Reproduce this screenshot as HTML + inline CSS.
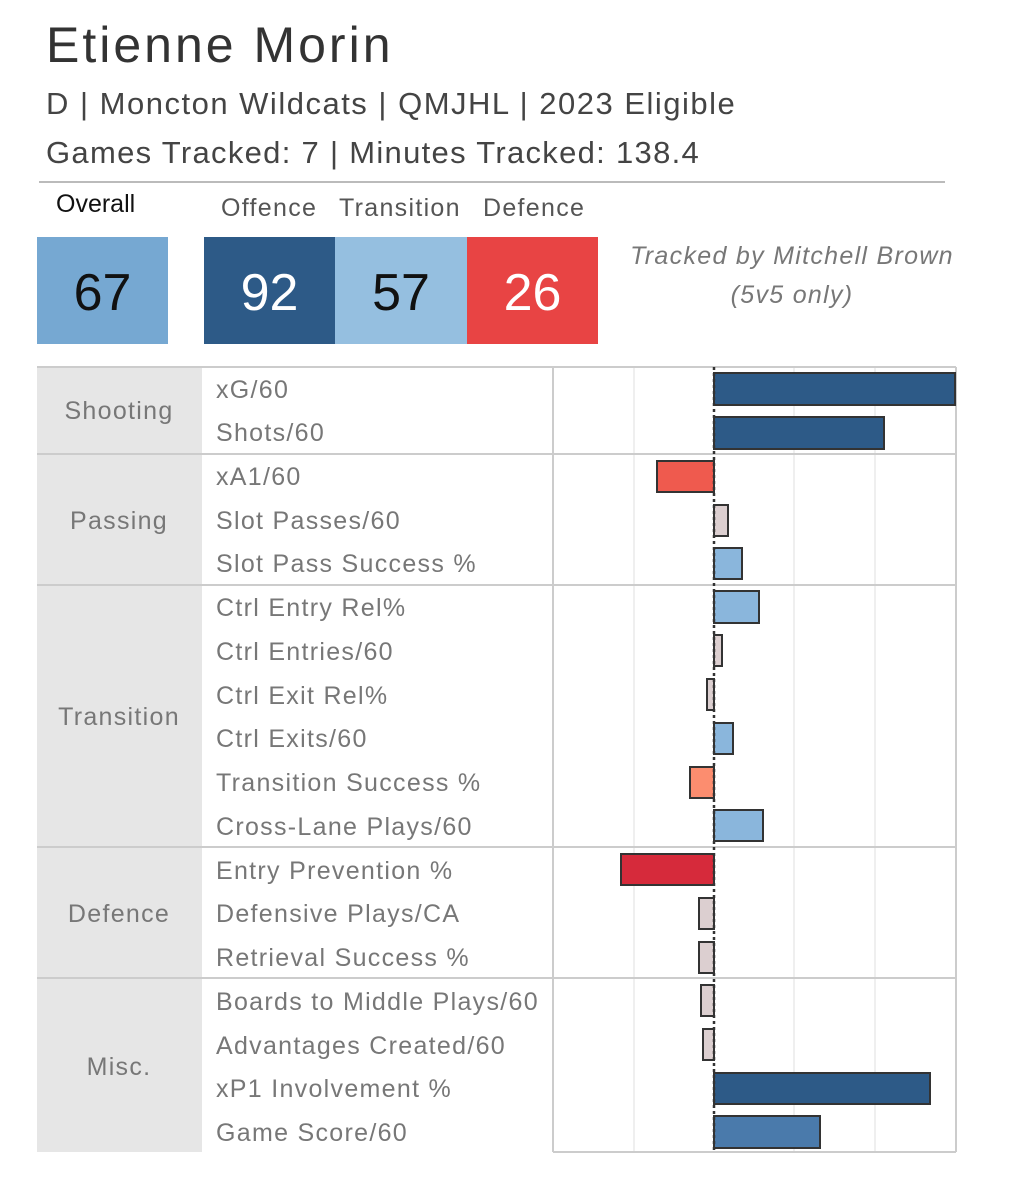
<!DOCTYPE html>
<html><head><meta charset="utf-8"><style>
body{margin:0;width:1026px;height:1195px;background:#fff;font-family:"Liberation Sans","DejaVu Sans",sans-serif;position:relative;overflow:hidden}
.a{position:absolute;white-space:nowrap}
</style></head><body>
<div class="a" style="left:46px;top:16px;font-size:50px;letter-spacing:3px;color:#333">Etienne Morin</div>
<div class="a" style="left:46px;top:86px;font-size:31px;letter-spacing:1.5px;color:#444">D | Moncton Wildcats | QMJHL | 2023 Eligible</div>
<div class="a" style="left:46px;top:135px;font-size:31px;letter-spacing:1.3px;color:#444">Games Tracked: 7 | Minutes Tracked: 138.4</div>
<div class="a" style="left:39px;top:181px;width:906px;height:2px;background:#bbb"></div>
<div class="a" style="left:56px;top:190px;font-size:25px;color:#111">Overall</div>
<div class="a" style="left:221px;top:194px;font-size:25px;letter-spacing:1.3px;color:#555">Offence</div>
<div class="a" style="left:339px;top:194px;font-size:25px;letter-spacing:1.3px;color:#555">Transition</div>
<div class="a" style="left:483px;top:194px;font-size:25px;letter-spacing:1.3px;color:#555">Defence</div>
<div class="a" style="left:37px;top:237px;width:131px;height:107px;background:#76a8d2;font-size:52px;line-height:112px;text-align:center;color:#111">67</div>
<div class="a" style="left:204px;top:237px;width:131px;height:107px;background:#2d5a87;font-size:52px;line-height:112px;text-align:center;color:#fff">92</div>
<div class="a" style="left:335px;top:237px;width:132px;height:107px;background:#95bfe0;font-size:52px;line-height:112px;text-align:center;color:#111">57</div>
<div class="a" style="left:467px;top:237px;width:131px;height:107px;background:#e84444;font-size:52px;line-height:112px;text-align:center;color:#fff">26</div>
<div class="a" style="left:622px;top:237px;width:340px;text-align:center;font-size:25px;letter-spacing:1.3px;font-style:italic;color:#777;line-height:39px;white-space:normal">Tracked by Mitchell Brown<br>(5v5 only)</div>
<svg class="a" style="left:0;top:0" width="1026" height="1195">
<rect x="37" y="367" width="165" height="785" fill="#e6e6e6"/>
<g stroke="#eaeaea" stroke-width="1.5"><line x1="634" y1="367" x2="634" y2="1152"/><line x1="794" y1="367" x2="794" y2="1152"/><line x1="875" y1="367" x2="875" y2="1152"/></g>
<g stroke="#ccc" stroke-width="2" fill="none">
<line x1="37" y1="367" x2="956" y2="367"/>
<line x1="37" y1="454" x2="956" y2="454"/><line x1="37" y1="585" x2="956" y2="585"/><line x1="37" y1="847" x2="956" y2="847"/><line x1="37" y1="978" x2="956" y2="978"/>
<line x1="553" y1="367" x2="553" y2="1152"/><line x1="956" y1="367" x2="956" y2="1152"/><line x1="553" y1="1152" x2="956" y2="1152"/>
</g>
<g stroke="#333" stroke-width="2">
<rect x="714" y="373" width="241" height="32" fill="#2d5a87"/>
<rect x="714" y="417" width="170" height="32" fill="#2d5a87"/>
<rect x="657" y="461" width="57" height="31" fill="#ef5a4e"/>
<rect x="714" y="505" width="14" height="31" fill="#dccfd0"/>
<rect x="714" y="548" width="28" height="31" fill="#8ab6dc"/>
<rect x="714" y="591" width="45" height="32" fill="#8ab6dc"/>
<rect x="714" y="635" width="8" height="31" fill="#dccfd0"/>
<rect x="707" y="679" width="7" height="31" fill="#dccfd0"/>
<rect x="714" y="723" width="19" height="31" fill="#8ab6dc"/>
<rect x="690" y="767" width="24" height="31" fill="#fc8d6f"/>
<rect x="714" y="810" width="49" height="31" fill="#8ab6dc"/>
<rect x="621" y="854" width="93" height="31" fill="#d62a3b"/>
<rect x="699" y="898" width="15" height="31" fill="#dccfd0"/>
<rect x="699" y="942" width="15" height="31" fill="#dccfd0"/>
<rect x="701" y="985" width="13" height="31" fill="#dccfd0"/>
<rect x="703" y="1029" width="11" height="31" fill="#dccfd0"/>
<rect x="714" y="1073" width="216" height="31" fill="#2d5a87"/>
<rect x="714" y="1116" width="106" height="32" fill="#4a7aab"/>
</g>
<line x1="714" y1="367" x2="714" y2="1152" stroke="#333" stroke-width="2.5" stroke-dasharray="3,3"/>
<g font-family="Liberation Sans, DejaVu Sans, sans-serif" font-size="25" fill="#777" text-anchor="middle" letter-spacing="1.3">
<text x="119" y="419">Shooting</text><text x="119" y="529">Passing</text><text x="119" y="725">Transition</text><text x="119" y="922">Defence</text><text x="119" y="1075">Misc.</text>
</g>
<g font-family="Liberation Sans, DejaVu Sans, sans-serif" font-size="25" fill="#777" letter-spacing="1.3">
<text x="216" y="398">xG/60</text><text x="216" y="441">Shots/60</text><text x="216" y="485">xA1/60</text><text x="216" y="529">Slot Passes/60</text><text x="216" y="572">Slot Pass Success %</text>
<text x="216" y="616">Ctrl Entry Rel%</text><text x="216" y="660">Ctrl Entries/60</text><text x="216" y="704">Ctrl Exit Rel%</text><text x="216" y="747">Ctrl Exits/60</text><text x="216" y="791">Transition Success %</text><text x="216" y="835">Cross-Lane Plays/60</text>
<text x="216" y="879">Entry Prevention %</text><text x="216" y="922">Defensive Plays/CA</text><text x="216" y="966">Retrieval Success %</text>
<text x="216" y="1010">Boards to Middle Plays/60</text><text x="216" y="1054">Advantages Created/60</text><text x="216" y="1097">xP1 Involvement %</text><text x="216" y="1141">Game Score/60</text>
</g>
</svg>
</body></html>
